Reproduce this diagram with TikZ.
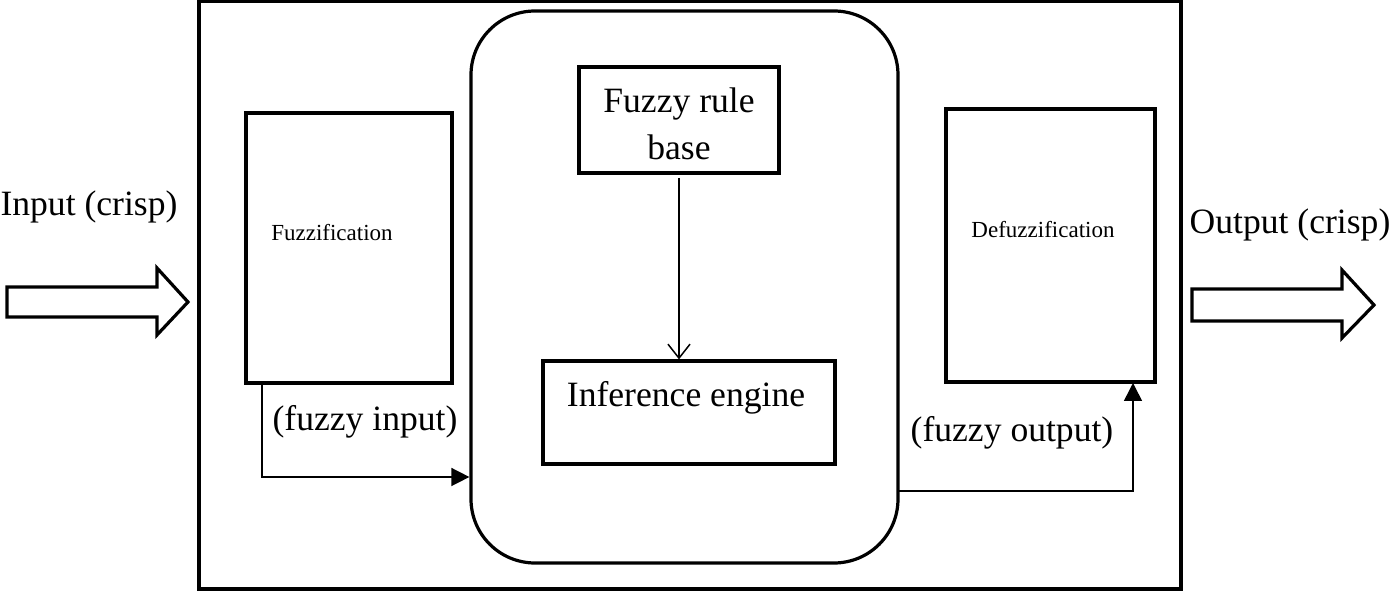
\documentclass[tikz,border=0pt]{standalone}
\usepackage{fontspec}
\setmainfont{Liberation Serif}
\usetikzlibrary{arrows.meta}
\begin{document}
\begin{tikzpicture}[x=0.5pt,y=-0.5pt,
  box/.style={draw,line width=1.6pt,inner sep=0pt},
  lbl/.style={font=\fontsize{17.8}{20}\selectfont,inner sep=0pt},
  small/.style={font=\fontsize{11.5}{13}\selectfont,inner sep=0pt},
  conn/.style={line width=0.75pt},
  blockarrow/.style={draw,line width=1.6pt,line join=miter,fill=white}]
\useasboundingbox (0,0) rectangle (1389,592);
% outer frame
\node[box,line width=1.9pt,minimum width=491pt,minimum height=294pt] (frame) at (690,295) {};
% fuzzification
\node[box,minimum width=103pt,minimum height=135pt] (fuz) at (349,248) {};
\node[small] (fuzt) at (332,233) {Fuzzification};
% rounded inference block
\node[box,rounded corners=32pt,minimum width=213.5pt,minimum height=276pt] (inf) at (684.5,287) {};
% rule base
\node[box,minimum width=100pt,minimum height=53pt] (rule) at (679,120) {};
\node[lbl,align=center] (rulet) at (679,124) {Fuzzy rule\\[3.5pt]base};
% inference engine
\node[box,minimum width=146pt,minimum height=51.5pt] (eng) at (689,412.5) {};
\node[lbl] (engt) at (686,398) {Inference engine};
% defuzzification
\node[box,minimum width=104.5pt,minimum height=136.5pt] (defuz) at (1050.5,245.5) {};
\node[small] (defuzt) at (1043,230) {Defuzzification};
% labels
\node[lbl] (in) at (89,207) {Input (crisp)};
\node[lbl] (out) at (1290,225) {Output (crisp)};
\node[lbl] (fin) at (365,422) {(fuzzy input)};
\node[lbl] (fout) at (1012,433) {(fuzzy output)};
% block arrows
\draw[blockarrow] (7,287) -- (157,287) -- (157,268) -- (188,302) -- (157,335) -- (157,317) -- (7,317) -- cycle;
\draw[blockarrow] (1192,289) -- (1342,289) -- (1342,270) -- (1374,305) -- (1342,338) -- (1342,321) -- (1192,321) -- cycle;
% connectors
\coordinate (ruleout) at (679,178);
\draw[conn,-{Straight Barb[length=7pt,width=11pt,line width=0.75pt]}] (ruleout) -- (eng.north -| ruleout);
\coordinate (fuzin) at (262,383);
\draw[conn,-{Triangle[length=9pt,width=9pt]}] (fuzin) |- (inf.west |- 0,477);
\coordinate (fout0) at (899,491);
\draw[conn,-{Triangle[length=9pt,width=9pt]}] (fout0) -| (1133,383);
\end{tikzpicture}
\end{document}
